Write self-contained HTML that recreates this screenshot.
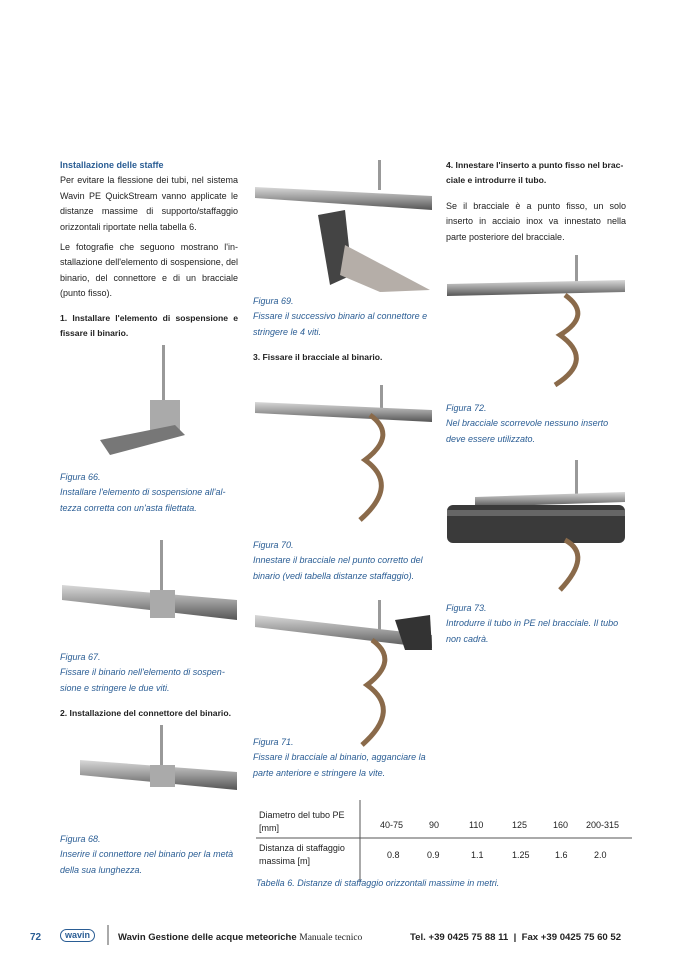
<!DOCTYPE html>
<html><head><meta charset="utf-8"><style>
body{margin:0;width:678px;height:959px;background:#fff;position:relative;overflow:hidden;font-family:"Liberation Sans",sans-serif;}
.t{position:absolute;font-size:9px;line-height:15.4px;color:#222;}
.j{text-align:justify;text-align-last:left}
.c{color:#2a5d94;font-style:italic}
.b{font-weight:bold;font-family:"Liberation Sans Narrow","Liberation Sans",sans-serif;font-size:8.6px}
.h{color:#2a5d94;font-weight:bold}
svg{position:absolute;left:0;top:0}
</style></head><body>
<svg width="678" height="959">
<defs><linearGradient id="r" x1="0" y1="0" x2="0" y2="1"><stop offset="0" stop-color="#d8d8d8"/><stop offset=".5" stop-color="#9a9a9a"/><stop offset="1" stop-color="#555"/></linearGradient></defs>
<rect x="162" y="345" width="3" height="60" fill="#999"/><rect x="150" y="400" width="30" height="30" fill="#aaa"/><path d="M100 440 L175 425 L185 435 L110 455Z" fill="#777"/>
<rect x="160" y="540" width="3" height="55" fill="#999"/><path d="M62 585 L237 600 L237 620 L62 600Z" fill="url(#r)"/><rect x="150" y="590" width="25" height="28" fill="#aaa"/>
<rect x="160" y="725" width="3" height="45" fill="#999"/><path d="M80 760 L237 772 L237 790 L80 775Z" fill="url(#r)"/><rect x="150" y="765" width="25" height="22" fill="#aaa"/>
<rect x="378" y="160" width="3" height="30" fill="#999"/><path d="M255 187 L432 196 L432 210 L255 198Z" fill="url(#r)"/><path d="M318 215 L345 210 L352 275 L330 285Z" fill="#444"/><path d="M345 245 L430 290 L380 292 L340 275Z" fill="#b5aea8"/>
<rect x="380" y="385" width="3" height="30" fill="#999"/><path d="M255 402 L432 410 L432 422 L255 413Z" fill="url(#r)"/><path d="M370 415 q28 20 -5 45 q35 25 -5 60" fill="none" stroke="#8a6a4a" stroke-width="5"/>
<rect x="378" y="600" width="3" height="30" fill="#999"/><path d="M255 615 L432 635 L432 648 L255 627Z" fill="url(#r)"/><path d="M372 640 q28 20 -5 45 q35 25 -5 60" fill="none" stroke="#8a6a4a" stroke-width="5"/><path d="M395 620 L430 615 L432 650 L405 650Z" fill="#333"/>
<rect x="575" y="255" width="3" height="30" fill="#999"/><path d="M447 284 L625 280 L625 292 L447 296Z" fill="url(#r)"/><path d="M565 295 q28 20 -5 40 q35 25 -5 50" fill="none" stroke="#8a6a4a" stroke-width="5"/>
<rect x="575" y="460" width="3" height="40" fill="#999"/><path d="M475 497 L625 492 L625 502 L475 507Z" fill="url(#r)"/><rect x="447" y="505" width="178" height="38" rx="6" fill="#3a3a3a"/><rect x="447" y="510" width="178" height="6" fill="#666"/><path d="M565 540 q28 15 -5 50" fill="none" stroke="#8a6a4a" stroke-width="5"/>
<line x1="360" y1="800" x2="360" y2="882" stroke="#555" stroke-width="1"/>
<line x1="256" y1="838" x2="632" y2="838" stroke="#555" stroke-width="1"/>
<line x1="108" y1="925" x2="108" y2="945" stroke="#555"/>
</svg>

<div class="t" style="left:60px;top:158px;width:178px">
<div class="h">Installazione delle staffe</div>
<div class="j">Per evitare la flessione dei tubi, nel sistema Wavin PE QuickStream vanno applicate le distanze massime di supporto/staffaggio orizzontali riportate nella tabella 6.</div>
<div class="j" style="margin-top:5px">Le fotografie che seguono mostrano l'in­stallazione dell'elemento di sospensione, del binario, del connettore e di un bracciale (punto fisso).</div>
<div class="b j" style="margin-top:9px">1. Installare l'elemento di sospensione e fissare il binario.</div>
</div>
<div class="t c" style="left:60px;top:470px;width:180px">Figura 66.<br>Installare l'elemento di sospensione all'al­tezza corretta con un'asta filettata.</div>
<div class="t c" style="left:60px;top:650px;width:180px">Figura 67.<br>Fissare il binario nell'elemento di sospen­sione e stringere le due viti.</div>
<div class="t b" style="left:60px;top:706px">2. Installazione del connettore del binario.</div>
<div class="t c" style="left:60px;top:832px;width:180px">Figura 68.<br>Inserire il connettore nel binario per la metà della sua lunghezza.</div>

<div class="t c" style="left:253px;top:294px;width:182px">Figura 69.<br>Fissare il successivo binario al connettore e stringere le 4 viti.</div>
<div class="t b" style="left:253px;top:350px">3. Fissare il bracciale al binario.</div>
<div class="t c" style="left:253px;top:538px;width:182px">Figura 70.<br>Innestare il bracciale nel punto corretto del binario (vedi tabella distanze staffaggio).</div>
<div class="t c" style="left:253px;top:735px;width:182px">Figura 71.<br>Fissare il bracciale al binario, agganciare la parte anteriore e stringere la vite.</div>

<div class="t" style="left:446px;top:158px;width:180px">
<div class="b">4. Innestare l'inserto a punto fisso nel brac­ciale e introdurre il tubo.</div>
<div class="j" style="margin-top:10px">Se il bracciale è a punto fisso, un solo inserto in acciaio inox va innestato nella parte posteriore del bracciale.</div>
</div>
<div class="t c" style="left:446px;top:401px;width:180px">Figura 72.<br>Nel bracciale scorrevole nessuno inserto deve essere utilizzato.</div>
<div class="t c" style="left:446px;top:601px;width:180px">Figura 73.<br>Introdurre il tubo in PE nel bracciale. Il tubo non cadrà.</div>

<div class="t" style="left:259px;top:809px;line-height:13px">Diametro del tubo PE<br>[mm]</div>
<div class="t" style="left:259px;top:842px;line-height:13px">Distanza di staffaggio<br>massima [m]</div>
<div class="t" style="left:380px;top:818px">40-75</div><div class="t" style="left:429px;top:818px">90</div><div class="t" style="left:469px;top:818px">110</div><div class="t" style="left:512px;top:818px">125</div><div class="t" style="left:553px;top:818px">160</div><div class="t" style="left:586px;top:818px">200-315</div>
<div class="t" style="left:387px;top:848px">0.8</div><div class="t" style="left:427px;top:848px">0.9</div><div class="t" style="left:471px;top:848px">1.1</div><div class="t" style="left:512px;top:848px">1.25</div><div class="t" style="left:555px;top:848px">1.6</div><div class="t" style="left:594px;top:848px">2.0</div>
<div class="t c" style="left:256px;top:876px">Tabella 6. Distanze di staffaggio orizzontali massime in metri.</div>

<div class="t" style="left:30px;top:930px;font-weight:bold;color:#2a5d94;font-size:10px">72</div>
<div class="t" style="left:60px;top:929px;border:1.3px solid #2a5d94;border-radius:7px;padding:0 4px;line-height:11px;font-size:9px;color:#2a5d94;font-weight:bold">wavin</div>
<div class="t" style="left:118px;top:930px;font-size:9.5px"><b>Wavin Gestione delle acque meteoriche</b> <span style="font-family:'Liberation Serif',serif">Manuale tecnico</span></div>
<div class="t" style="left:410px;top:930px;font-size:9.6px;font-weight:bold">Tel. +39 0425 75 88 11 &nbsp;|&nbsp; Fax +39 0425 75 60 52</div>
</body></html>
